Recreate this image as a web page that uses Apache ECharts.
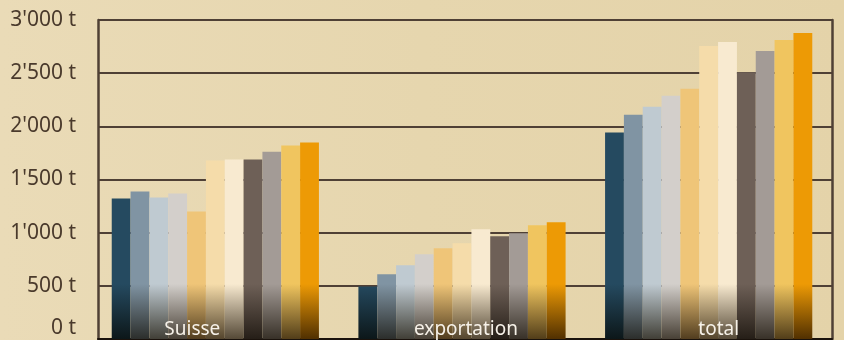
<!DOCTYPE html>
<html>
<head>
<meta charset="utf-8">
<script src="https://cdn.jsdelivr.net/npm/echarts@6/dist/echarts.min.js"></script>
<style>
html,body{margin:0;padding:0;}
#c{width:844px;height:340px;background:linear-gradient(90deg,#eadbb7 0%,#e6d6ae 50%,#e4d3a9 100%);}
</style>
</head>
<body>
<div id="c"></div>
<script>
var categories = ['Suisse', 'exportation', 'total'];
var seriesNames = ['s1','s2','s3','s4','s5','s6','s7','s8','s9','s10','s11'];
var suisse      = [1322, 1387, 1331, 1369, 1200, 1678, 1687, 1687, 1762, 1819, 1847];
var exportation = [ 494,  609,  694,  797,  853,  900, 1031,  966,  994, 1069, 1097];
var total       = [1941, 2109, 2184, 2287, 2353, 2756, 2794, 2509, 2709, 2812, 2878];
var yTickValues = [0, 500, 1000, 1500, 2000, 2500, 3000];
var yTickLabels = ['0 t', '500 t', "1'000 t", "1'500 t", "2'000 t", "2'500 t", "3'000 t"];
var colors = ['#254a60','#8094a3','#bfcad1','#d3cfcb','#efc578','#f5dcaa','#f8ead0','#6e6057','#a39b96','#f0c55f','#ed9a05'];
// label paddings (style only): [top,right,bottom,left] used to nudge category labels
var labelPads = [[0,46,0,0],[0,0,0,8],[0,0,0,20]];

function hex(c){return [parseInt(c.substr(1,2),16),parseInt(c.substr(3,2),16),parseInt(c.substr(5,2),16)];}
function dark(c){
  var r=hex(c);
  var f=[0.33,0.30,0.25];
  return 'rgb('+Math.round(r[0]*f[0])+','+Math.round(r[1]*f[1])+','+Math.round(r[2]*f[2])+')';
}

var rich = {};
labelPads.forEach(function(p,i){
  rich['c'+i] = {padding:p, color:'#f6f1e8', fontFamily:'Noto Sans', fontSize:19};
});

var chart = echarts.init(document.getElementById('c'), null, {renderer:'canvas'});
var series = seriesNames.map(function(n,i){
  return {
    name: n,
    type: 'bar',
    xAxisIndex: 0, yAxisIndex: 0,
    barGap: '0%',
    barCategoryGap: '16%',
    data: [suisse[i], exportation[i], total[i]],
    itemStyle: {
      color: {type:'linear', x:0, y:284, x2:0, y2:340, global:true,
        colorStops:[{offset:0,color:colors[i]},{offset:1,color:dark(colors[i])}]}
    },
    emphasis:{disabled:true},
    animation:false
  };
});

chart.setOption({
  animation:false,
  grid:[
    {left:92, right:12, top:20, bottom:1, containLabel:false, outerBoundsMode:'none'},
    {left:98, right:12, top:20, bottom:1, containLabel:false, outerBoundsMode:'none'}
  ],
  xAxis:[
    {type:'category', gridIndex:0, data:categories,
     axisLine:{show:false}, axisTick:{show:false},
     axisLabel:{margin:-19, color:'#f6f1e8', fontFamily:'Noto Sans', fontSize:19, rich:rich,
       formatter:function(v){var k=categories.indexOf(v);return '{c'+k+'|'+v+'}';}},
     z:10},
    {type:'value', gridIndex:1, min:0, max:1, show:true,
     axisLine:{show:true, lineStyle:{color:'#1a120c', width:2}},
     axisTick:{show:false}, axisLabel:{show:false}, splitLine:{show:false}, z:1}
  ],
  yAxis:[
    {type:'value', gridIndex:0, min:0, max:3000, show:false},
    {type:'value', gridIndex:1, min:0, max:3000, interval:500, position:'left',
     axisLine:{show:true, lineStyle:{color:'#4f4035', width:2.5}},
     axisTick:{show:false},
     axisLabel:{margin:22, color:'#4a3a2c', fontFamily:'Noto Sans', fontSize:21,
       verticalAlignMinLabel:'bottom',
       formatter:function(v){var k=yTickValues.indexOf(v);return k>=0?yTickLabels[k]:'';}},
     splitLine:{show:true, lineStyle:{color:'#4f4035', width:2}}},
    {type:'value', gridIndex:1, min:0, max:3000, interval:500, position:'right',
     axisLine:{show:true, lineStyle:{color:'#4f4035', width:2.5}},
     axisTick:{show:false}, axisLabel:{show:false}, splitLine:{show:false}}
  ],
  series: series
});
</script>
</body>
</html>
